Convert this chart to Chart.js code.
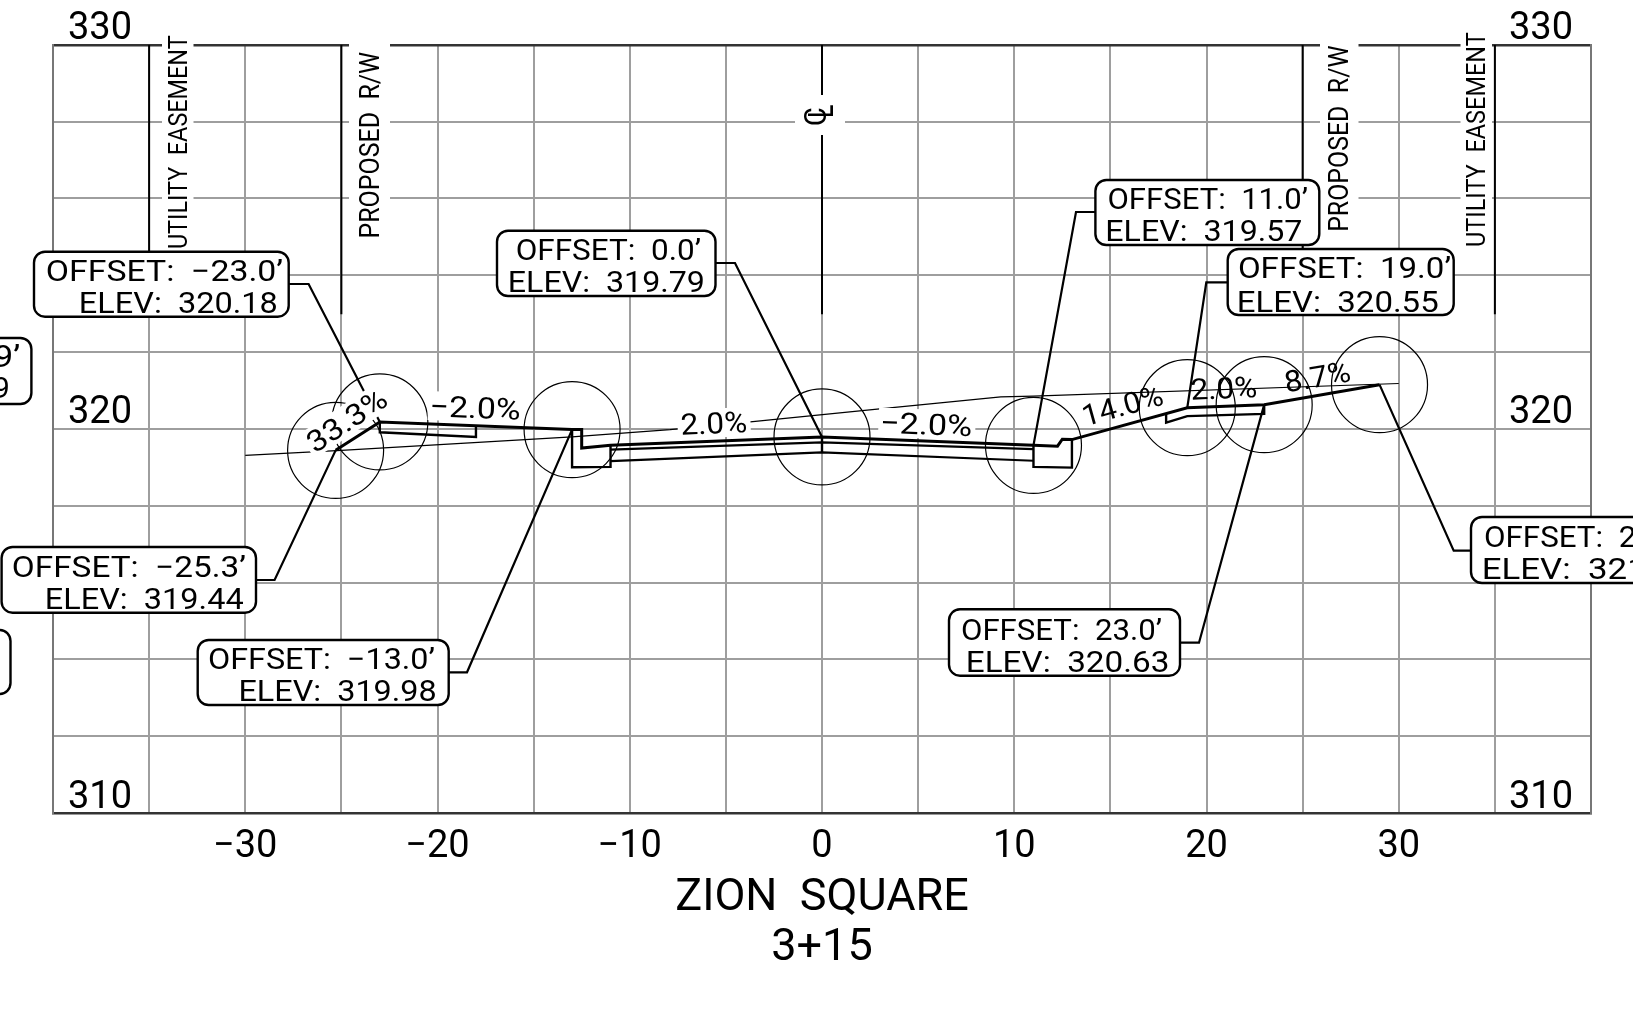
<!DOCTYPE html>
<html><head><meta charset="utf-8">
<style>html,body{margin:0;padding:0;background:#fff;overflow:hidden}canvas{display:block}</style>
<script src="https://cdn.jsdelivr.net/npm/chart.js@4/dist/chart.umd.min.js"></script>
</head><body><canvas id="c" width="1633" height="1015"></canvas>
<script>
// ---- data (feet offset / elevation) ----
const xTickValues = [-30,-20,-10,0,10,20,30];
const yTickValues = [310,320,330];
const stationOffsets = [-25.3,-23,-13,0,11,19,23,29];
const stationElevs   = [319.44,320.18,319.98,319.79,319.57,320.55,320.63,321.15];
const finishX = [-25.3,-23,-13,-12.5,-12.5,-11,0,11,12.25,12.5,13,19,23,29];
const finishY = [319.44,320.18,319.98,319.98,319.5,319.57,319.79,319.57,319.55,319.73,319.72,320.55,320.63,321.15];
const groundX = [-30,-25,-13,-7.9,-3.6,3,9.3,11,30];
const groundY = [319.31,319.44,319.79,319.98,320.19,320.52,320.83,320.85,321.18];
const curbLeftX = [-13,-13,-11,-11];
const curbLeftY = [319.98,319,319.01,319.57];
const curbRightX = [11,11,13,13];
const curbRightY = [319.57,319.01,318.99,319.72];
const baseTopX = [-11,0,11];
const baseTopY = [319.46,319.65,319.47];
const baseBotX = [-11,0,11];
const baseBotY = [319.16,319.39,319.17];
const crownX = [0,0];
const crownY = [319.79,319.39];
const walkLeftX = [-23,-23,-18,-18];
const walkLeftY = [320.18,319.91,319.79,320.08];
const walkRightX = [17.9,17.9,19,23,23];
const walkRightY = [320.39,320.16,320.33,320.39,320.63];
const refLineOffsets = [-35,-25,0,25,35];
const refLineTop = 330;
const refLineBottom = 322.98;

const pts = (xs,ys)=>xs.map((x,i)=>({x,y:ys[i]}));
const INK='#000', FONT='Roboto, sans-serif';
const thick=(xs,ys,w)=>({data:pts(xs,ys),showLine:true,borderColor:INK,borderWidth:w,pointRadius:0,fill:false,tension:0,borderJoinStyle:'miter'});

const datasets=[
  thick(finishX,finishY,3),
  thick(curbLeftX,curbLeftY,2.4),
  thick(curbRightX,curbRightY,2.4),
  thick(baseTopX,baseTopY,2.2),
  thick(baseBotX,baseBotY,2.2),
  thick(crownX,crownY,2.4),
  thick(walkLeftX,walkLeftY,2.4),
  thick(walkRightX,walkRightY,2.4),
];
const annotationHookIndex = datasets.length-1;
datasets.push({data:pts(groundX,groundY),showLine:true,borderColor:INK,borderWidth:1.2,pointRadius:0,fill:false});
datasets.push({data:pts(stationOffsets,stationElevs),showLine:false,pointRadius:48,pointBorderWidth:1.2,pointBorderColor:INK,pointBackgroundColor:'rgba(0,0,0,0)'});
refLineOffsets.forEach(o=>datasets.push({data:[{x:o,y:refLineTop},{x:o,y:refLineBottom}],showLine:true,borderColor:INK,borderWidth:2,pointRadius:0}));

// ---- annotation layout (page pixels; leaders end on data points via the scales) ----
const callouts=[
 {box:[34,251.7,254.7,65],knee:[[288.7,284],[308.6,284]],st:1,lines:[['OFFSET:  −23.0’',47,282,260,281],['ELEV:  320.18',81,276,292,313]]},
 {box:[497,230.7,218.5,65.3],knee:[[715.5,263],[735,263]],st:3,lines:[['OFFSET:  0.0’',516.7,700,239,260],['ELEV:  319.79',510,703.5,271.7,292.3]]},
 {box:[1095.4,180,223.9,65],knee:[[1095.4,212],[1076,212]],st:4,lines:[['OFFSET:  11.0’',1108.5,1307,188,209],['ELEV:  319.57',1107.5,1302,220,240.7]]},
 {box:[1227.7,249,226,66],knee:[[1227.7,282.3],[1206.3,282.3]],st:5,lines:[['OFFSET:  19.0’',1239,1450,257,278],['ELEV:  320.55',1239,1438,290.7,311.7]]},
 {box:[1.6,547,254.4,65.7],knee:[[256,580],[274.6,580]],st:0,lines:[['OFFSET:  −25.3’',13,244.8,556,577],['ELEV:  319.44',47,243,588,609]]},
 {box:[197.7,640,251,65],knee:[[448.7,672.3],[467,672.3]],st:2,lines:[['OFFSET:  −13.0’',209,434,648,669],['ELEV:  319.98',240.6,435,680,701]]},
 {box:[949,609.3,231,66.4],knee:[[1180,642.7],[1199,642.7]],st:6,lines:[['OFFSET:  23.0’',962,1161,619,640],['ELEV:  320.63',968,1167.6,650.7,671.7]]},
 {box:[1471,517,300,66],knee:[[1471,550.7],[1453.7,550.7]],st:7,lines:[['OFFSET:  2',1485,1636,526.7,547.3],['ELEV:  321',1484,1640,558,579.3]]},
 {box:[-240,338,271.4,66],lines:[['9’',-5,19,345,366.7],['9',-6,8,376.7,398]]},
 {box:[-240,630,250.5,64],lines:[]},
];
const slopeLabels=[
 {t:'33.3%',cx:346.7,cy:420,len:88,cap:21,rot:-33.7,mask:true},
 {t:'−2.0%',cx:476,cy:407.5,len:88,cap:21,rot:2.3,mask:true},
 {t:'2.0%',cx:714,cy:423,len:65,cap:21,rot:-2.3,mask:true},
 {t:'−2.0%',cx:927,cy:424,len:89,cap:21,rot:2.3,mask:true},
 {t:'14.0%',cx:1123,cy:405,len:80,cap:21,rot:-15.6},
 {t:'2.0%',cx:1224,cy:388,len:65,cap:21,rot:-2.3},
 {t:'8.7%',cx:1317.5,cy:376.5,len:65,cap:21,rot:-9.9},
];
const sideLabels=[
 {t:'UTILITY  EASEMENT',cx:177.8,cy:141.7,len:213,cap:18.8,mask:[162,35,31.5,213]},
 {t:'PROPOSED  R/W',cx:369.4,cy:144.2,len:185,cap:19.2,mask:[349,40,41,200]},
 {t:'PROPOSED  R/W',cx:1338,cy:137.9,len:184.3,cap:19.5,mask:[1320,40,38.5,195]},
 {t:'UTILITY  EASEMENT',cx:1476,cy:139.4,len:213.3,cap:18.5,mask:[1460.5,32,31.5,214]},
];

function fitText(ctx,t,cx,cy,len,cap,rotDeg,fontFam){
  const size=cap/0.711;
  ctx.save();
  ctx.font=`${size}px ${fontFam||FONT}`;
  ctx.fillStyle=INK;ctx.textAlign='left';ctx.textBaseline='alphabetic';
  const m=ctx.measureText(t);
  const w=m.actualBoundingBoxLeft+m.actualBoundingBoxRight;
  ctx.translate(cx,cy);ctx.rotate((rotDeg||0)*Math.PI/180);ctx.scale(len/w,1);
  ctx.fillText(t,-w/2+m.actualBoundingBoxLeft,cap/2);
  ctx.restore();
}
function whiteRect(ctx,x,y,w,h){ctx.save();ctx.fillStyle='#fff';ctx.fillRect(x,y,w,h);ctx.restore();}

const annotate={id:'annotate',beforeDatasetDraw(chart,args){
  if(args.index!==annotationHookIndex)return;
  const c=chart.ctx,X=chart.scales.x,Y=chart.scales.y;
  c.save();
  sideLabels.forEach(s=>{whiteRect(c,...s.mask);fitText(c,s.t,s.cx,s.cy,s.len,s.cap,-90);});
  // centreline symbol
  whiteRect(c,795,95,50,40);
  fitText(c,'C',815,116.7,17,22,-90);
  fitText(c,'L',820.7,110.7,12,25,-90);
  // leaders
  c.strokeStyle=INK;c.lineWidth=2.2;c.lineJoin='miter';
  callouts.forEach(k=>{if(!k.knee)return;
    c.beginPath();c.moveTo(...k.knee[0]);c.lineTo(...k.knee[1]);
    c.lineTo(X.getPixelForValue(stationOffsets[k.st]),Y.getPixelForValue(stationElevs[k.st]));c.stroke();});
  // slope labels
  slopeLabels.forEach(s=>{
    if(s.mask){c.save();c.translate(s.cx,s.cy);c.rotate(s.rot*Math.PI/180);c.fillStyle='#fff';c.fillRect(-s.len/2-4,-s.cap/2-4,s.len+8,s.cap+8);c.restore();}
    fitText(c,s.t,s.cx,s.cy,s.len,s.cap,s.rot);
  });
  // callout boxes
  callouts.forEach(k=>{
    c.beginPath();c.roundRect(k.box[0],k.box[1],k.box[2],k.box[3],11);
    c.fillStyle='#fff';c.fill();c.lineWidth=2.4;c.strokeStyle=INK;c.stroke();
    k.lines.forEach(l=>fitText(c,l[0],(l[1]+l[2])/2,(l[3]+l[4])/2,l[2]-l[1],l[4]-l[3]));
  });
  c.restore();
}};
const noPad=s=>{s.paddingLeft=s.paddingRight=s.paddingTop=s.paddingBottom=0;};

new Chart(document.getElementById('c'),{
  type:'scatter',
  data:{datasets},
  plugins:[annotate],
  options:{
    responsive:false,animation:false,events:[],
    layout:{padding:0,autoPadding:false},
    plugins:{legend:{display:false},tooltip:{enabled:false},title:{display:false}},
    scales:{
      x:{type:'linear',position:'bottom',min:-40,max:40,
        afterFit:s=>{s.height=202;noPad(s);},
        border:{color:'#333',width:2.4},
        grid:{color:'#9e9e9e',lineWidth:2,drawTicks:false},
        ticks:{stepSize:5,autoSkip:false,maxRotation:0,padding:12,color:INK,font:{family:'Roboto',size:38},
          callback:v=>xTickValues.includes(v)?String(v).replace('-','−'):''},
        title:{display:true,text:['ZION  SQUARE','3+15'],color:INK,font:{family:'Roboto',size:45,lineHeight:1.1},padding:{top:0,bottom:42}}},
      xTop:{type:'linear',position:'top',min:-40,max:40,
        afterFit:s=>{s.height=44.7;noPad(s);},
        border:{color:'#333',width:2.4},grid:{display:false,drawTicks:false},ticks:{display:false}},
      y:{type:'linear',position:'left',min:310,max:330,
        afterFit:s=>{s.width=53;noPad(s);},
        border:{color:'#777',width:2},
        grid:{color:'#9e9e9e',lineWidth:2,drawTicks:false},
        ticks:{stepSize:2,mirror:true,padding:15,labelOffset:-15,color:INK,font:{family:'Roboto',size:38},autoSkip:false,
          callback:v=>yTickValues.includes(v)?String(v):''}},
      yRight:{type:'linear',position:'right',min:310,max:330,
        afterFit:s=>{s.width=42;noPad(s);},
        border:{color:'#777',width:2},grid:{display:false,drawTicks:false},
        ticks:{stepSize:2,mirror:true,padding:-18,labelOffset:-15,color:INK,font:{family:'Roboto',size:38},autoSkip:false,
          callback:v=>yTickValues.includes(v)?String(v):''}}
    }
  }
});
</script></body></html>
